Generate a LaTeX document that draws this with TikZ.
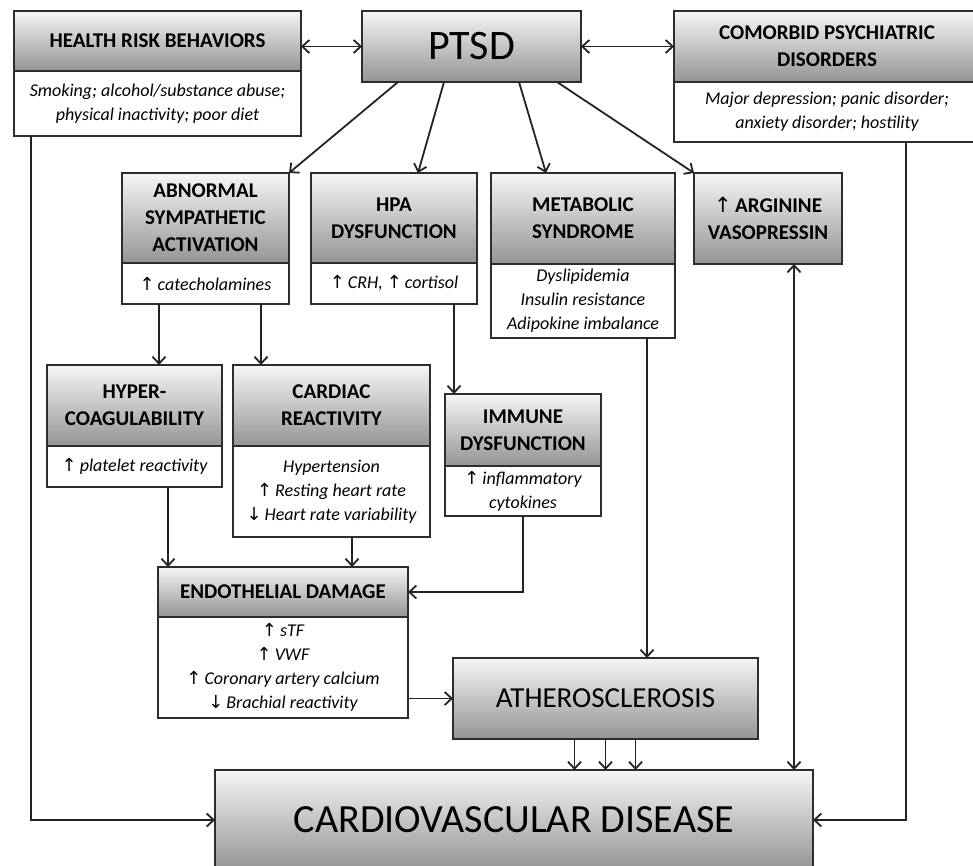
\documentclass[tikz,border=0pt]{standalone}
\usepackage{fontspec}
\setmainfont{Carlito}
\newfontfamily\symfont{DejaVu Sans}
\usepackage{xcolor}
\usepackage{tikz}
\usetikzlibrary{arrows.meta,positioning,calc}
\definecolor{boxline}{RGB}{45,45,45}
\definecolor{headtop}{RGB}{246,246,246}
\definecolor{headbot}{RGB}{148,148,148}
\definecolor{arrowline}{RGB}{35,35,35}
\newcommand{\headfont}{\fontsize{21}{27}\selectfont\bfseries}
\newcommand{\bodyfont}{\fontsize{18}{24}\selectfont\itshape}
\newcommand{\incr}{{\symfont\upshape\mdseries ↑}\,}
\newcommand{\decr}{{\symfont\upshape\mdseries ↓}\,}
\tikzset{
  headbox/.style={draw=boxline, line width=2.2pt, top color=headtop,
    bottom color=headbot, align=center, inner sep=0pt, outer sep=0pt,
    font=\headfont},
  textbox/.style={draw=boxline, line width=2.2pt, fill=white,
    align=center, inner sep=0pt, outer sep=0pt, font=\bodyfont},
  bigbox/.style={headbox, font=\fontsize{40}{44}\selectfont},
  arrow/.style={-{Straight Barb[length=7pt,width=13pt]}, line width=1.8pt,
    draw=arrowline},
  biarrow/.style={{Straight Barb[length=7pt,width=13pt]}-{Straight Barb[length=7pt,width=13pt]},
    line width=1.8pt, draw=arrowline}
}

\begin{document}
\begin{tikzpicture}[x=1pt,y=-1pt]
  \useasboundingbox (0,0) rectangle (973,866);

  % top row
  \node[headbox, minimum width=287, minimum height=60] (hrb) at (157.5,41)
    {HEALTH RISK BEHAVIORS};
  \node[textbox, minimum width=287, minimum height=65, below=0pt of hrb] (hrbtxt)
    {Smoking; alcohol/substance abuse;\\physical inactivity; poor diet};
  \node[bigbox, font=\fontsize{42}{46}\selectfont, minimum width=219,
    minimum height=71] (ptsd) at (471.5,46.5) {PTSD};
  \node[headbox, minimum width=306, minimum height=71] (comorbid) at (827,46.5)
    {COMORBID PSYCHIATRIC\\DISORDERS};
  \node[textbox, minimum width=306, minimum height=60, below=0pt of comorbid] (comtxt)
    {Major depression; panic disorder;\\anxiety disorder; hostility};

  % second row
  \node[headbox, minimum width=167, minimum height=90] (symp) at (205.5,218)
    {ABNORMAL\\SYMPATHETIC\\ACTIVATION};
  \node[textbox, minimum width=167, minimum height=41, below=0pt of symp] (symptxt)
    {\incr catecholamines};
  \node[headbox, minimum width=166, minimum height=90] (hpa) at (394,218)
    {HPA\\DYSFUNCTION};
  \node[textbox, minimum width=166, minimum height=41, below=0pt of hpa] (hpatxt)
    {\incr CRH, \incr cortisol};
  \node[headbox, minimum width=184, minimum height=91] (metab) at (583,218.5)
    {METABOLIC\\SYNDROME};
  \node[textbox, minimum width=184, minimum height=74, below=0pt of metab] (metabtxt)
    {Dyslipidemia\\Insulin resistance\\Adipokine imbalance};
  \node[headbox, minimum width=148, minimum height=91] (avp) at (768,218.5)
    {{\symfont\mdseries ↑}\,ARGININE\\VASOPRESSIN};

  % third row
  \node[headbox, minimum width=175, minimum height=81] (hyper) at (134.5,405.5)
    {HYPER-\\COAGULABILITY};
  \node[textbox, minimum width=175, minimum height=41, below=0pt of hyper] (hypertxt)
    {\incr platelet reactivity};
  \node[headbox, minimum width=197, minimum height=81] (cardiac) at (331.5,405.5)
    {CARDIAC\\REACTIVITY};
  \node[textbox, minimum width=197, minimum height=91, below=0pt of cardiac] (cardtxt)
    {Hypertension\\\incr Resting heart rate\\\decr Heart rate variability};
  \node[headbox, minimum width=156, minimum height=72] (immune) at (523,430)
    {IMMUNE\\DYSFUNCTION};
  \node[textbox, minimum width=156, minimum height=50, below=0pt of immune] (immtxt)
    {\incr inflammatory\\cytokines};

  % bottom
  \node[headbox, minimum width=250, minimum height=50] (endo) at (283,592)
    {ENDOTHELIAL DAMAGE};
  \node[textbox, minimum width=250, minimum height=101, below=0pt of endo] (endotxt)
    {\incr sTF\\\incr VWF\\\incr Coronary artery calcium\\\decr Brachial reactivity};
  \node[bigbox, font=\fontsize{29}{32}\selectfont, minimum width=305,
    minimum height=81] (athero) at (605.5,698.5) {ATHEROSCLEROSIS};
  \node[bigbox, minimum width=598, minimum height=100] (cvd) at (514,820)
    {CARDIOVASCULAR DISEASE};

  \coordinate (sy1) at ([xshift=37]symptxt.south west);
  \coordinate (sy2) at ([xshift=-28]symptxt.south east);
  \coordinate (hp1) at ([xshift=-23]hpatxt.south east);
  \coordinate (mb1) at ([xshift=-28]metabtxt.south east);
  \coordinate (av1) at ([xshift=-48]avp.south east);
  \coordinate (hr1) at ([xshift=17]hrbtxt.south west);
  \coordinate (cm1) at ([xshift=232]comtxt.south west);
  \coordinate (hy1) at ([xshift=121]hypertxt.south west);
  \coordinate (cr1) at ([xshift=119]cardtxt.south west);

  \draw[biarrow] (hrb.east |- ptsd.west) -- (ptsd.west);
  \draw[biarrow] (ptsd.east) -- (comorbid.west |- ptsd.east);
  \draw[arrow] ([xshift=36]ptsd.south west) -- (symp.north east);
  \draw[arrow] ([xshift=82]ptsd.south west) -- ([xshift=107]hpa.north west);
  \draw[arrow] ([xshift=157]ptsd.south west) -- ([xshift=55]metab.north west);
  \draw[arrow] ([xshift=195]ptsd.south west) -- (avp.north west);
  \draw[arrow] (sy1) -- (sy1 |- hyper.north);
  \draw[arrow] (sy2) -- (sy2 |- cardiac.north);
  \draw[arrow] (hp1) -- (hp1 |- immune.north);
  \draw[arrow] (mb1) -- (mb1 |- athero.north);
  \draw[biarrow] (av1) -- (av1 |- cvd.north);
  \draw[arrow] (hr1) |- (cvd.west);
  \draw[arrow] (cm1) |- (cvd.east);
  \draw[arrow] (hy1) -- (hy1 |- endo.north);
  \draw[arrow] (cr1) -- (cr1 |- endo.north);
  \draw[arrow] (immtxt.south) |- (endo.east);
  \draw[arrow] (endotxt.east |- athero.west) -- (athero.west);
  \foreach \dx in {-31,0,30} {
    \coordinate (ath) at ([xshift=\dx]athero.south);
    \draw[arrow] (ath) -- (ath |- cvd.north);
  }
\end{tikzpicture}
\end{document}
